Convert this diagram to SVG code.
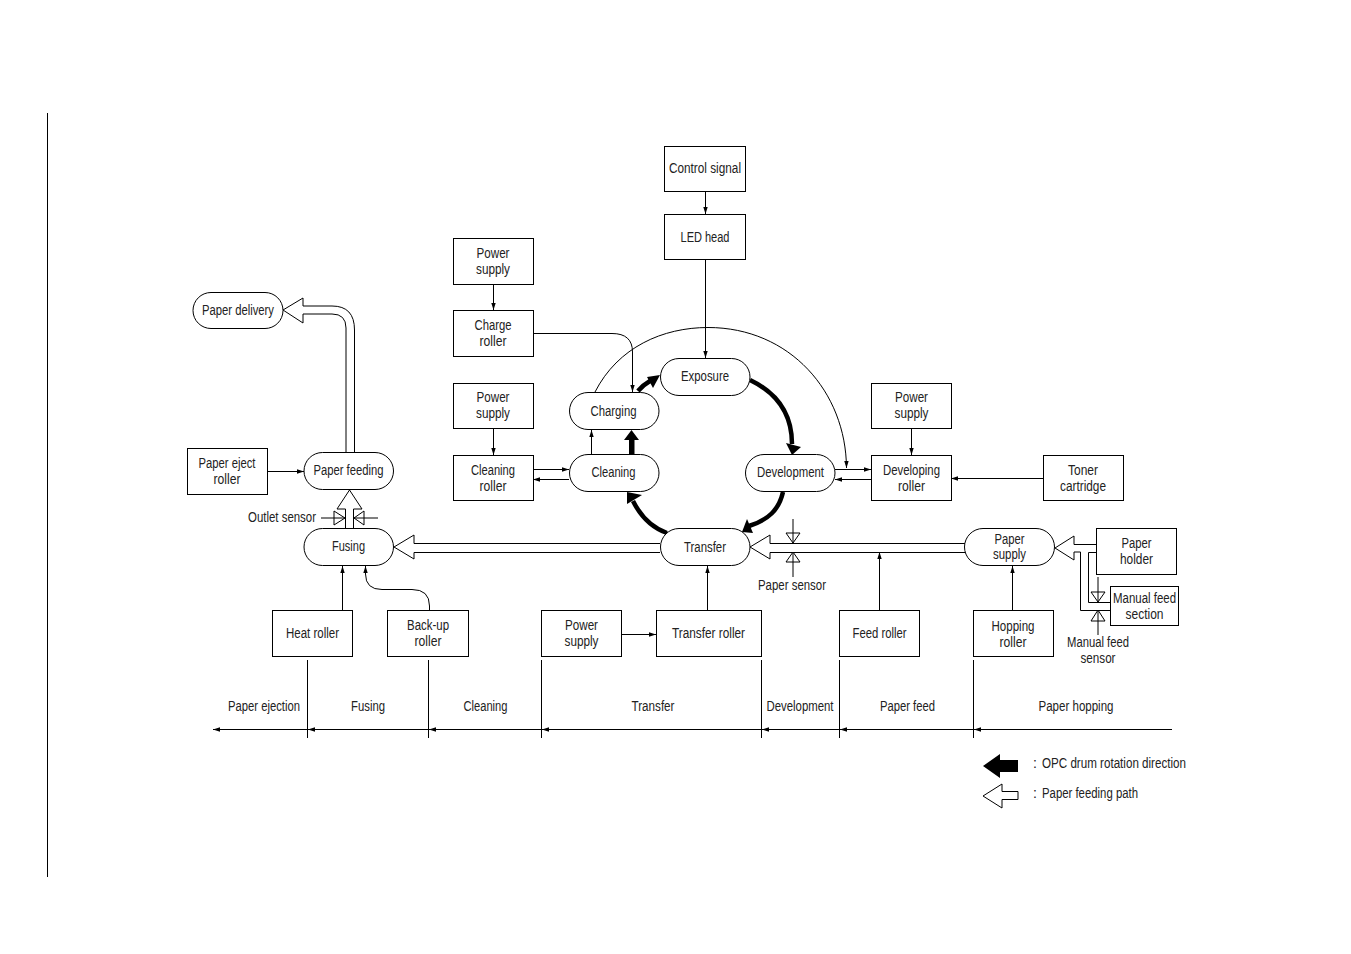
<svg xmlns="http://www.w3.org/2000/svg" width="1351" height="954" viewBox="0 0 1351 954">
<defs>
<marker id="a" markerUnits="userSpaceOnUse" markerWidth="7" markerHeight="5" refX="7" refY="2.500" orient="auto"><path d="M0 0.300L7 2.500L0 4.700Z" fill="#000"/></marker>
</defs>
<style>
rect,.p{fill:#fff;stroke:#000;stroke-width:1}
.c path,.c line,.l{fill:none;stroke:#000;stroke-width:1}
.c .ar{marker-end:url(#a)}
.c .w{fill:#fff}
.c .k{fill:none;stroke-width:4.500}
.c .h{fill:#000;stroke:none}
text{font-family:"Liberation Sans",Arial,sans-serif;font-size:14px;fill:#222;text-anchor:middle}
.s{text-anchor:start}
</style>
<rect width="1351" height="954" style="stroke:none"/>
<line class="l" x1="47.500" y1="113" x2="47.500" y2="877"/>

<g id="connectors" class="c">
<path class="ar" d="M705.500 191V214"/>
<path class="ar" d="M705.500 259V358"/>
<path class="ar" d="M493.500 284V310"/>
<path class="ar" d="M533 333.500H612Q632.500 333.500 632.500 352V392"/>
<path class="ar" d="M493.500 429V455"/>
<path class="ar" d="M533 469.500H569"/>
<path class="ar" d="M569 479.500H533"/>
<path class="ar" d="M591.500 454V430"/>
<path class="ar" d="M595 392C618 347 663 327.500 708 327.500C790 327.500 846 392 846.500 468"/>
<path class="ar" d="M835 469.500H871"/>
<path class="ar" d="M871 479.500H835"/>
<path class="ar" d="M911.500 428V455"/>
<path class="ar" d="M1043 478.500H951"/>
<path class="ar" d="M267 471.500H304"/>
<path class="ar" d="M342.500 610V566"/>
<path class="ar" d="M429.500 610V606Q429.500 589.500 412 589.500H382Q365.500 589.500 365.500 574V566"/>
<path class="ar" d="M621 634.500H656"/>
<path class="ar" d="M707.500 610V566"/>
<path class="ar" d="M879.500 610V552"/>
<path class="ar" d="M1012.500 610V566"/>

<path class="k" d="M750 380C775 392 792 412 792 444"/>
<path class="h" d="M792 455L786 443L801 447Z"/>
<path class="k" d="M783 492C779 510 768 520 749 526"/>
<path class="h" d="M742 532L747 519L753 533Z"/>
<path class="k" d="M667 533C650 527 640 515 633 501"/>
<path class="h" d="M627 492L627 504L642 495Z"/>
<path class="h" d="M629 454V440H624L631.500 430L639 440H634.500V454Z"/>
<path class="k" d="M638 391Q643 385 650 381"/>
<path class="h" d="M660 375L647 377L653 388Z"/>

<path class="w" d="M660 543.500H414V535L394 547L414 559V552.500H660"/>
<path class="w" d="M965 543.500H770V535L750 547L770 559V552.500H965"/>
<path class="w" d="M345.500 528V509H337L349.500 490L362 509H353.500V528"/>
<path class="w" d="M346 452V328Q346 314 332 314H303V323L283 310L303 298V306H332Q354.500 306 354.500 330V452"/>
<path class="w" d="M1096 544.500H1074V536L1055 548L1074 560V552H1080.500V610.500H1110"/>
<path d="M1096 552.500H1088.500V602.500H1110"/>

<path class="w" d="M334 511V525L345 518Z"/>
<line x1="321" y1="518" x2="345" y2="518"/>
<path class="w" d="M364 511V525L354 518Z"/>
<line x1="354" y1="518" x2="378" y2="518"/>
<path class="w" d="M786 533H800L793 543Z"/>
<line x1="793" y1="519" x2="793" y2="543"/>
<path class="w" d="M786 562H800L793 552Z"/>
<line x1="793" y1="552" x2="793" y2="577"/>
<path class="w" d="M1091 592H1105L1098 602Z"/>
<line x1="1098" y1="577" x2="1098" y2="602"/>
<path class="w" d="M1091 621H1105L1098 610Z"/>
<line x1="1098" y1="610" x2="1098" y2="635"/>

<path class="ar" d="M1172 729.500H974"/>
<path class="ar" d="M974 729.500H840"/>
<path class="ar" d="M840 729.500H762"/>
<path class="ar" d="M762 729.500H542"/>
<path class="ar" d="M542 729.500H429"/>
<path class="ar" d="M429 729.500H308"/>
<path class="ar" d="M308 729.500H213"/>
<line x1="307.500" y1="660" x2="307.500" y2="738"/>
<line x1="428.500" y1="660" x2="428.500" y2="738"/>
<line x1="541.500" y1="660" x2="541.500" y2="738"/>
<line x1="761.500" y1="660" x2="761.500" y2="738"/>
<line x1="839.500" y1="660" x2="839.500" y2="738"/>
<line x1="973.500" y1="660" x2="973.500" y2="738"/>
</g>

<g id="control-signal"><rect x="664.500" y="146.500" width="81" height="45"/><text x="705" y="173" textLength="72" lengthAdjust="spacingAndGlyphs">Control signal</text></g>
<g id="led-head"><rect x="664.500" y="214.500" width="81" height="45"/><text x="705" y="242" textLength="49" lengthAdjust="spacingAndGlyphs">LED head</text></g>
<g id="power-charge"><rect x="453.500" y="238.500" width="80" height="46"/><text x="493" y="258" textLength="33" lengthAdjust="spacingAndGlyphs">Power</text><text x="493" y="274" textLength="34" lengthAdjust="spacingAndGlyphs">supply</text></g>
<g id="charge-roller"><rect x="453.500" y="310.500" width="80" height="46"/><text x="493" y="330" textLength="37" lengthAdjust="spacingAndGlyphs">Charge</text><text x="493" y="346" textLength="27" lengthAdjust="spacingAndGlyphs">roller</text></g>
<g id="power-cleaning"><rect x="453.500" y="383.500" width="80" height="45"/><text x="493" y="402" textLength="33" lengthAdjust="spacingAndGlyphs">Power</text><text x="493" y="418" textLength="34" lengthAdjust="spacingAndGlyphs">supply</text></g>
<g id="cleaning-roller"><rect x="453.500" y="455.500" width="80" height="45"/><text x="493" y="475" textLength="44" lengthAdjust="spacingAndGlyphs">Cleaning</text><text x="493" y="491" textLength="27" lengthAdjust="spacingAndGlyphs">roller</text></g>
<g id="power-develop"><rect x="871.500" y="383.500" width="80" height="45"/><text x="911.500" y="402" textLength="33" lengthAdjust="spacingAndGlyphs">Power</text><text x="911.500" y="418" textLength="34" lengthAdjust="spacingAndGlyphs">supply</text></g>
<g id="developing-roller"><rect x="871.500" y="455.500" width="80" height="45"/><text x="911.500" y="475" textLength="57" lengthAdjust="spacingAndGlyphs">Developing</text><text x="911.500" y="491" textLength="27" lengthAdjust="spacingAndGlyphs">roller</text></g>
<g id="toner-cartridge"><rect x="1043.500" y="455.500" width="80" height="45"/><text x="1083" y="475" textLength="30" lengthAdjust="spacingAndGlyphs">Toner</text><text x="1083" y="491" textLength="46" lengthAdjust="spacingAndGlyphs">cartridge</text></g>
<g id="paper-holder"><rect x="1096.500" y="528.500" width="80" height="46"/><text x="1136.500" y="548" textLength="30" lengthAdjust="spacingAndGlyphs">Paper</text><text x="1136.500" y="564" textLength="33" lengthAdjust="spacingAndGlyphs">holder</text></g>
<g id="manual-feed-section"><rect x="1110.500" y="586.500" width="68" height="39"/><text x="1144.500" y="603" textLength="63" lengthAdjust="spacingAndGlyphs">Manual feed</text><text x="1144.500" y="619" textLength="38" lengthAdjust="spacingAndGlyphs">section</text></g>
<g id="hopping-roller"><rect x="973.500" y="610.500" width="80" height="46"/><text x="1013" y="631" textLength="43" lengthAdjust="spacingAndGlyphs">Hopping</text><text x="1013" y="647" textLength="27" lengthAdjust="spacingAndGlyphs">roller</text></g>
<g id="feed-roller"><rect x="839.500" y="610.500" width="80" height="46"/><text x="879.500" y="638" textLength="54" lengthAdjust="spacingAndGlyphs">Feed roller</text></g>
<g id="transfer-roller"><rect x="656.500" y="610.500" width="105" height="46"/><text x="708.500" y="638" textLength="73" lengthAdjust="spacingAndGlyphs">Transfer roller</text></g>
<g id="power-transfer"><rect x="541.500" y="610.500" width="80" height="46"/><text x="581.500" y="630" textLength="33" lengthAdjust="spacingAndGlyphs">Power</text><text x="581.500" y="646" textLength="34" lengthAdjust="spacingAndGlyphs">supply</text></g>
<g id="backup-roller"><rect x="387.500" y="610.500" width="81" height="46"/><text x="428" y="630" textLength="42" lengthAdjust="spacingAndGlyphs">Back-up</text><text x="428" y="646" textLength="27" lengthAdjust="spacingAndGlyphs">roller</text></g>
<g id="heat-roller"><rect x="272.500" y="610.500" width="80" height="46"/><text x="312.500" y="638" textLength="53" lengthAdjust="spacingAndGlyphs">Heat roller</text></g>
<g id="paper-eject-roller"><rect x="187.500" y="448.500" width="80" height="46"/><text x="227" y="468" textLength="57" lengthAdjust="spacingAndGlyphs">Paper eject</text><text x="227" y="484" textLength="27" lengthAdjust="spacingAndGlyphs">roller</text></g>

<g id="exposure"><rect x="660.500" y="358.500" width="89.500" height="37" rx="18.500"/><text x="705" y="381" textLength="48" lengthAdjust="spacingAndGlyphs">Exposure</text></g>
<g id="charging"><rect x="569.500" y="392.500" width="89.500" height="37" rx="18.500"/><text x="613.500" y="416" textLength="46" lengthAdjust="spacingAndGlyphs">Charging</text></g>
<g id="cleaning"><rect x="569.500" y="454.500" width="89.500" height="37" rx="18.500"/><text x="613.500" y="477" textLength="44" lengthAdjust="spacingAndGlyphs">Cleaning</text></g>
<g id="development"><rect x="745.500" y="454.500" width="89.500" height="37" rx="18.500"/><text x="790.500" y="477" textLength="67" lengthAdjust="spacingAndGlyphs">Development</text></g>
<g id="transfer"><rect x="660.500" y="528.500" width="89.500" height="37" rx="18.500"/><text x="705" y="552" textLength="42" lengthAdjust="spacingAndGlyphs">Transfer</text></g>
<g id="paper-supply"><rect x="964.500" y="528.500" width="90" height="37" rx="18.500"/><text x="1009.500" y="544" textLength="30" lengthAdjust="spacingAndGlyphs">Paper</text><text x="1009.500" y="559" textLength="33" lengthAdjust="spacingAndGlyphs">supply</text></g>
<g id="fusing"><rect x="304" y="528.500" width="89.500" height="37" rx="18.500"/><text x="348.500" y="551" textLength="33" lengthAdjust="spacingAndGlyphs">Fusing</text></g>
<g id="paper-feeding"><rect x="304" y="452.500" width="89.500" height="37" rx="18.500"/><text x="348.500" y="475" textLength="70" lengthAdjust="spacingAndGlyphs">Paper feeding</text></g>
<g id="paper-delivery"><rect x="193" y="292.500" width="90" height="36" rx="18"/><text x="238" y="315" textLength="72" lengthAdjust="spacingAndGlyphs">Paper delivery</text></g>

<g id="labels">
<text x="282" y="522" textLength="68" lengthAdjust="spacingAndGlyphs">Outlet sensor</text>
<text x="792" y="590" textLength="68" lengthAdjust="spacingAndGlyphs">Paper sensor</text>
<text x="1098" y="647" textLength="62" lengthAdjust="spacingAndGlyphs">Manual feed</text>
<text x="1098" y="663" textLength="35" lengthAdjust="spacingAndGlyphs">sensor</text>
<text x="264" y="711" textLength="72" lengthAdjust="spacingAndGlyphs">Paper ejection</text>
<text x="368" y="711" textLength="34" lengthAdjust="spacingAndGlyphs">Fusing</text>
<text x="485.500" y="711" textLength="44" lengthAdjust="spacingAndGlyphs">Cleaning</text>
<text x="653" y="711" textLength="43" lengthAdjust="spacingAndGlyphs">Transfer</text>
<text x="800" y="711" textLength="67" lengthAdjust="spacingAndGlyphs">Development</text>
<text x="907.500" y="711" textLength="55" lengthAdjust="spacingAndGlyphs">Paper feed</text>
<text x="1076" y="711" textLength="75" lengthAdjust="spacingAndGlyphs">Paper hopping</text>
</g>

<g id="legend">
<path d="M983 766L1000 754V760H1018V772H1000V778Z" fill="#000"/>
<path class="p" d="M983 796L1002 784V791.500H1018V799.500H1002V808Z"/>
<text class="s" x="1033" y="768">:</text>
<text class="s" x="1042" y="768" textLength="144" lengthAdjust="spacingAndGlyphs">OPC drum rotation direction</text>
<text class="s" x="1033" y="798">:</text>
<text class="s" x="1042" y="798" textLength="96" lengthAdjust="spacingAndGlyphs">Paper feeding path</text>
</g>
</svg>
